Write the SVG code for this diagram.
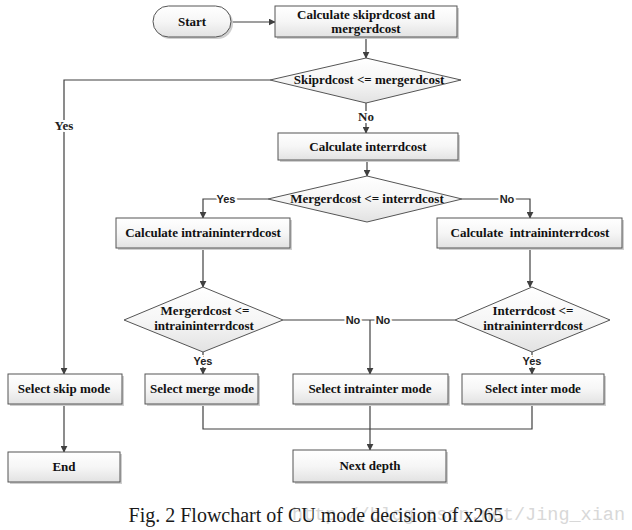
<svg xmlns="http://www.w3.org/2000/svg" width="632" height="530" viewBox="0 0 632 530">
<defs>
<linearGradient id="g" x1="0" y1="0" x2="0" y2="1">
<stop offset="0" stop-color="#ffffff"/>
<stop offset="0.5" stop-color="#f6f6f6"/>
<stop offset="1" stop-color="#e2e2e2"/>
</linearGradient>
<marker id="ah" viewBox="0 0 10 10" refX="9" refY="5" markerWidth="7" markerHeight="7" orient="auto" markerUnits="userSpaceOnUse">
<path d="M0,0 L10,5 L0,10 Z" fill="#404040"/>
</marker>
</defs>
<style>
.box{fill:url(#g);stroke:#555;stroke-width:1}
.sh{fill:#cfcfcf}
.t{font-family:"Liberation Serif",serif;font-weight:bold;font-size:13px;fill:#111;text-anchor:middle}
.c{fill:none;stroke:#404040;stroke-width:1.2}
.a{marker-end:url(#ah)}
.ls{font-family:"Liberation Sans",Arial,sans-serif;font-weight:bold;font-size:11px;fill:#222;text-anchor:middle;paint-order:stroke;stroke:#fff;stroke-width:4px}
.lf{font-family:"Liberation Serif",serif;font-weight:bold;font-size:13px;fill:#222;text-anchor:middle;paint-order:stroke;stroke:#fff;stroke-width:4px}
</style>
<rect width="632" height="530" fill="#fff"/>
<g id="connectors">
<path class="c a" d="M231,22 H275"/>
<path class="c a" d="M366,37 V58"/>
<path class="c a" d="M270,80 H64 V374"/>
<path class="c a" d="M366,103 V133"/>
<path class="c a" d="M367,160 V176"/>
<path class="c a" d="M268,199 H203 V218"/>
<path class="c a" d="M462,199 H530 V218"/>
<path class="c a" d="M203,248 V287"/>
<path class="c a" d="M530,248 V287"/>
<path class="c" d="M283,320 H455"/>
<path class="c a" d="M370,320 V374"/>
<path class="c a" d="M203,352 V374"/>
<path class="c a" d="M532,352 V374"/>
<path class="c a" d="M64,404 V452"/>
<path class="c" d="M203,404 V429 H532 V404"/>
<path class="c a" d="M370,404 V450"/>
<text class="lf" x="64" y="130">Yes</text>
<text class="lf" x="366" y="121">No</text>
<text class="ls" x="226" y="203">Yes</text>
<text class="ls" x="507" y="203">No</text>
<text class="ls" x="353" y="324">No</text>
<text class="ls" x="383" y="324">No</text>
<text class="ls" x="203" y="365">Yes</text>
<text class="ls" x="532" y="365">Yes</text>
</g>
<g id="start">
<rect class="sh" x="155" y="8" width="78" height="31" rx="15.5"/>
<rect class="box" x="153" y="6" width="78" height="31" rx="15.5"/>
<text class="t" x="192" y="26">Start</text>
</g>
<g id="calc-skip-merge">
<rect class="sh" x="277" y="8" width="182" height="31"/>
<rect class="box" x="275" y="6" width="182" height="31"/>
<text class="t" x="366" y="19">Calculate skiprdcost and</text>
<text class="t" x="366" y="33">mergerdcost</text>
</g>
<g id="dec-skip">
<polygon class="box" points="366,58 461,80 366,103 270,80"/>
<text class="t" x="369" y="84">Skiprdcost &lt;= mergerdcost</text>
</g>
<g id="calc-inter">
<rect class="sh" x="280" y="135" width="180" height="27"/>
<rect class="box" x="278" y="133" width="180" height="27"/>
<text class="t" x="368" y="151">Calculate interrdcost</text>
</g>
<g id="dec-merge-inter">
<polygon class="box" points="367,176 462,199 367,222 268,199"/>
<text class="t" x="367" y="203">Mergerdcost &lt;= interrdcost</text>
</g>
<g id="calc-intra-left">
<rect class="sh" x="118" y="220" width="174" height="30"/>
<rect class="box" x="116" y="218" width="174" height="30"/>
<text class="t" x="203" y="237">Calculate intraininterrdcost</text>
</g>
<g id="calc-intra-right">
<rect class="sh" x="439" y="220" width="185" height="30"/>
<rect class="box" x="437" y="218" width="185" height="30"/>
<text class="t" x="530" y="237" style="white-space:pre">Calculate  intraininterrdcost</text>
</g>
<g id="dec-merge-intra">
<polygon class="box" points="203,287 283,320 203,352 124,320"/>
<text class="t" x="205" y="315">Mergerdcost &lt;=</text>
<text class="t" x="204" y="330">intraininterrdcost</text>
</g>
<g id="dec-inter-intra">
<polygon class="box" points="532,287 610,320 532,352 455,320"/>
<text class="t" x="533" y="315">Interrdcost &lt;=</text>
<text class="t" x="533" y="330">intraininterrdcost</text>
</g>
<g id="skip-mode">
<rect class="sh" x="10" y="376" width="114" height="30"/>
<rect class="box" x="8" y="374" width="114" height="30"/>
<text class="t" x="64" y="393">Select skip mode</text>
</g>
<g id="merge-mode">
<rect class="sh" x="147" y="376" width="113" height="30"/>
<rect class="box" x="145" y="374" width="113" height="30"/>
<text class="t" x="202" y="393">Select merge mode</text>
</g>
<g id="intrainter-mode">
<rect class="sh" x="295" y="376" width="155" height="30"/>
<rect class="box" x="293" y="374" width="155" height="30"/>
<text class="t" x="370" y="393">Select intrainter mode</text>
</g>
<g id="inter-mode">
<rect class="sh" x="464" y="376" width="142" height="30"/>
<rect class="box" x="462" y="374" width="142" height="30"/>
<text class="t" x="533" y="393">Select inter mode</text>
</g>
<g id="end">
<rect class="sh" x="10" y="454" width="112" height="30"/>
<rect class="box" x="8" y="452" width="112" height="30"/>
<text class="t" x="64" y="471">End</text>
</g>
<g id="next-depth">
<rect class="sh" x="295" y="452" width="153" height="32"/>
<rect class="box" x="293" y="450" width="153" height="32"/>
<text class="t" x="370" y="470">Next depth</text>
</g>
<text x="625" y="520" font-family="Liberation Mono, monospace" font-size="18.5" fill="#d8d8d8" text-anchor="end">http://blog.csdn.net/Jing_xian</text>
<text x="316" y="522" font-family="Liberation Serif, serif" font-size="20" fill="#1a1a1a" text-anchor="middle">Fig. 2 Flowchart of CU mode decision of x265</text>
</svg>
